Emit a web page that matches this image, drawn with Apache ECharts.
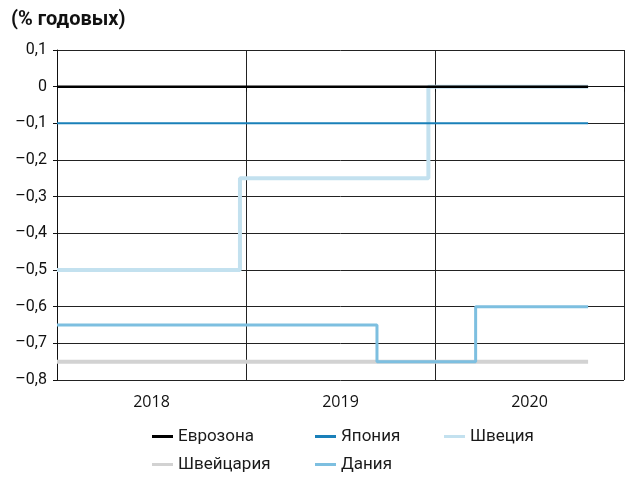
<!DOCTYPE html>
<html>
<head>
<meta charset="utf-8">
<script src="https://cdn.jsdelivr.net/npm/echarts@6/dist/echarts.min.js"></script>
<style>
  html, body { margin: 0; padding: 0; background: #fff; }
  #chart { width: 628px; height: 478px; }
</style>
</head>
<body>
<div id="chart"></div>
<script>
const years = ['2018', '2019', '2020']

// dates as fractional years, rates in % p.a.
const euroDates = [2018, 2020.81]
const euroRates = [0, 0]
const japanDates = [2018, 2020.81]
const japanRates = [-0.1, -0.1]
const swedenDates = [2018, 2018.968, 2019.965, 2020.81]
const swedenRates = [-0.5, -0.25, 0, 0]
const swissDates = [2018, 2020.81]
const swissRates = [-0.75, -0.75]
const denmarkDates = [2018, 2019.693, 2020.215, 2020.81]
const denmarkRates = [-0.65, -0.75, -0.6, -0.6]

const pairs = (xs, ys) => xs.map((x, i) => [x, ys[i]])

const chart = echarts.init(document.getElementById('chart'))

const fontFam = 'Roboto, "Noto Sans", sans-serif'

function mkSeries(name, xs, ys, color, width, z) {
  return {
    name: name,
    type: 'line',
    xAxisIndex: 1,
    step: 'end',
    data: pairs(xs, ys),
    symbol: 'none',
    z: z,
    lineStyle: { color: color, width: width },
    itemStyle: { color: color }
  }
}

const legendText = { color: '#1a1a1a', fontSize: 17, fontFamily: fontFam }
function mkLegend(left, names) {
  return {
    orient: 'vertical',
    left: left,
    top: 423,
    itemWidth: 21,
    itemHeight: 3,
    itemGap: 11,
    icon: 'rect',
    textStyle: legendText,
    data: names
  }
}

const option = {
  animation: false,
  title: {
    text: '(% годовых)',
    left: 6,
    top: 5,
    textStyle: { fontSize: 20, fontWeight: 'bold', color: '#111', fontFamily: fontFam }
  },
  legend: [
    mkLegend(147, ['Еврозона', 'Швейцария']),
    mkLegend(310, ['Япония', 'Дания']),
    mkLegend(439, ['Швеция'])
  ],
  grid: { left: 57, right: 4, top: 50, bottom: 98 },
  xAxis: [
    {
      type: 'category',
      data: years,
      boundaryGap: true,
      axisLine: { show: true, lineStyle: { color: '#111', width: 1 } },
      axisTick: { show: true, length: 5, lineStyle: { color: '#111' } },
      axisLabel: { color: '#111', fontSize: 16, margin: 14, fontFamily: '"Open Sans", sans-serif' },
      splitLine: { show: true, showMinLine: true, showMaxLine: true, lineStyle: { color: '#222', width: 1 } }
    },
    {
      type: 'value',
      min: 2018,
      max: 2021,
      show: false
    }
  ],
  yAxis: {
    type: 'value',
    min: -0.8,
    max: 0.1,
    interval: 0.1,
    axisLine: { show: true, lineStyle: { color: '#111', width: 1 } },
    axisTick: { show: true, length: 4, lineStyle: { color: '#111' } },
    axisLabel: {
      color: '#111',
      fontSize: 16,
      margin: 10,
      fontFamily: fontFam,
      formatter: v => {
        const r = Math.round(v * 10) / 10
        if (r === 0) return '0'
        return r.toFixed(1).replace('.', ',').replace('-', '–')
      }
    },
    splitLine: { show: true, lineStyle: { color: '#222', width: 1 } }
  },
  series: [
    mkSeries('Швейцария', swissDates, swissRates, '#d2d2d2', 4, 2),
    mkSeries('Швеция', swedenDates, swedenRates, '#c3e1ef', 4, 3),
    mkSeries('Дания', denmarkDates, denmarkRates, '#7dbfe0', 3, 4),
    mkSeries('Япония', japanDates, japanRates, '#1a80b9', 2, 5),
    mkSeries('Еврозона', euroDates, euroRates, '#000000', 2.5, 6)
  ]
}

chart.setOption(option)
</script>
</body>
</html>
